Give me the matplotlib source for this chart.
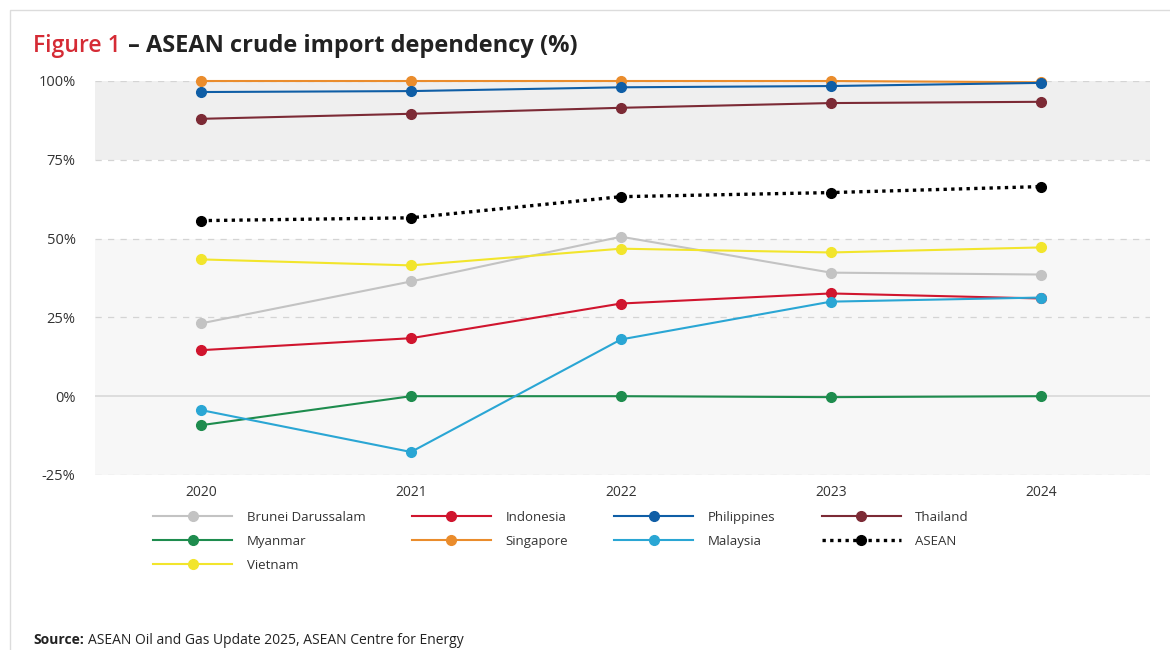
import matplotlib.pyplot as plt
from matplotlib.patches import Rectangle

plt.rcParams['font.family'] = ['Open Sans', 'DejaVu Sans']

years = ['2020', '2021', '2022', '2023', '2024']

brunei = [23.1, 36.4, 50.6, 39.2, 38.6]
indonesia = [14.6, 18.4, 29.4, 32.6, 31.0]
philippines = [96.5, 96.8, 98.0, 98.4, 99.4]
thailand = [88.0, 89.6, 91.5, 93.0, 93.4]
myanmar = [-9.2, 0.0, 0.0, -0.3, 0.0]
singapore = [100.0, 100.0, 100.0, 100.0, 99.6]
malaysia = [-4.4, -17.7, 18.0, 30.0, 31.3]
asean = [55.7, 56.6, 63.3, 64.6, 66.5]
vietnam = [43.4, 41.5, 46.8, 45.6, 47.2]

# listed in legend (column-major) order
series = [
    ('Brunei Darussalam', brunei, '#c3c3c3', '-'),
    ('Myanmar', myanmar, '#1e8c4e', '-'),
    ('Vietnam', vietnam, '#f2e52c', '-'),
    ('Indonesia', indonesia, '#d0152e', '-'),
    ('Singapore', singapore, '#ea8c2c', '-'),
    ('Philippines', philippines, '#0f5ea6', '-'),
    ('Malaysia', malaysia, '#2aa6d4', '-'),
    ('Thailand', thailand, '#7c2a35', '-'),
    ('ASEAN', asean, '#000000', (0, (1.0, 1.3))),
]

fig = plt.figure(figsize=(11.7, 6.5), dpi=100)
fig.patches.append(Rectangle((10 / 1170, -0.01), 1.0, 1 - 10 / 650 + 0.01,
                             transform=fig.transFigure, facecolor='none',
                             edgecolor='#dcdcdc', linewidth=1.0, zorder=-5))

ax = fig.add_axes([95 / 1170, 1 - 475 / 650, 1055 / 1170, 394 / 650])
ax.set_facecolor('none')

# background bands and grid
ax.axhspan(75, 100, color='#efefef', zorder=0, lw=0)
ax.axhspan(-25, 50, color='#f7f7f7', zorder=0, lw=0)
for v in [100, 75, 50, 25, -25]:
    ax.axhline(v, color='#d4d4d4', lw=0.9, ls=(0, (5, 5)), zorder=1)
ax.axhline(0, color='#dddddd', lw=1.4, zorder=1)

x = list(range(len(years)))
draw_order = [0, 2, 1, 3, 6, 7, 4, 5, 8]
lines = {}
for i in draw_order:
    name, vals, col, ls = series[i]
    lw = 2.4 if name == 'ASEAN' else 1.5
    ln, = ax.plot(x, vals, color=col, ls=ls, lw=lw, marker='o', markersize=7,
                  label=name, clip_on=False, zorder=3 + i)
    lines[name] = ln

ax.set_xlim(-0.505, 4.52)
ax.set_ylim(-25, 100)
ax.set_yticks([100, 75, 50, 25, 0, -25])
ax.set_yticklabels(['100%', '75%', '50%', '25%', '0%', '-25%'])
ax.set_xticks(x)
ax.set_xticklabels(years)
ax.tick_params(length=0, labelsize=10, colors='#333333')
ax.tick_params(axis='y', pad=14, labelsize=10.5)
ax.tick_params(axis='x', pad=7)
for s in ax.spines.values():
    s.set_visible(False)

handles = [lines[s[0]] for s in series]
fig.legend(handles, [s[0] for s in series], ncol=4, loc='upper left',
           bbox_to_anchor=(153 / 1170, 1 - 511 / 650), frameon=False,
           borderpad=0, borderaxespad=0,
           prop={'size': 9.5}, handlelength=6.0, handletextpad=1.1,
           columnspacing=3.5, labelspacing=0.82, labelcolor='#333333')

t1 = fig.text(33 / 1170, 1 - 46 / 650, 'Figure 1', color='#d52b35', fontsize=16.5,
              fontweight='semibold', va='center', ha='left')
ax.annotate('– ASEAN crude import dependency (%)', xy=(1, 0.5), xycoords=t1,
            xytext=(5, 0), textcoords='offset points', color='#222222',
            fontsize=17, fontweight='bold', va='center', ha='left',
            annotation_clip=False)

t2 = fig.text(33 / 1170, 1 - 640 / 650, 'Source:', color='#222222', fontsize=10,
              fontweight='bold', va='center', ha='left')
ax.annotate('ASEAN Oil and Gas Update 2025, ASEAN Centre for Energy', xy=(1, 0.5),
            xycoords=t2, xytext=(3, 0), textcoords='offset points', color='#222222',
            fontsize=10, va='center', ha='left', annotation_clip=False)

fig.savefig('out.png', dpi=100, facecolor='white')
